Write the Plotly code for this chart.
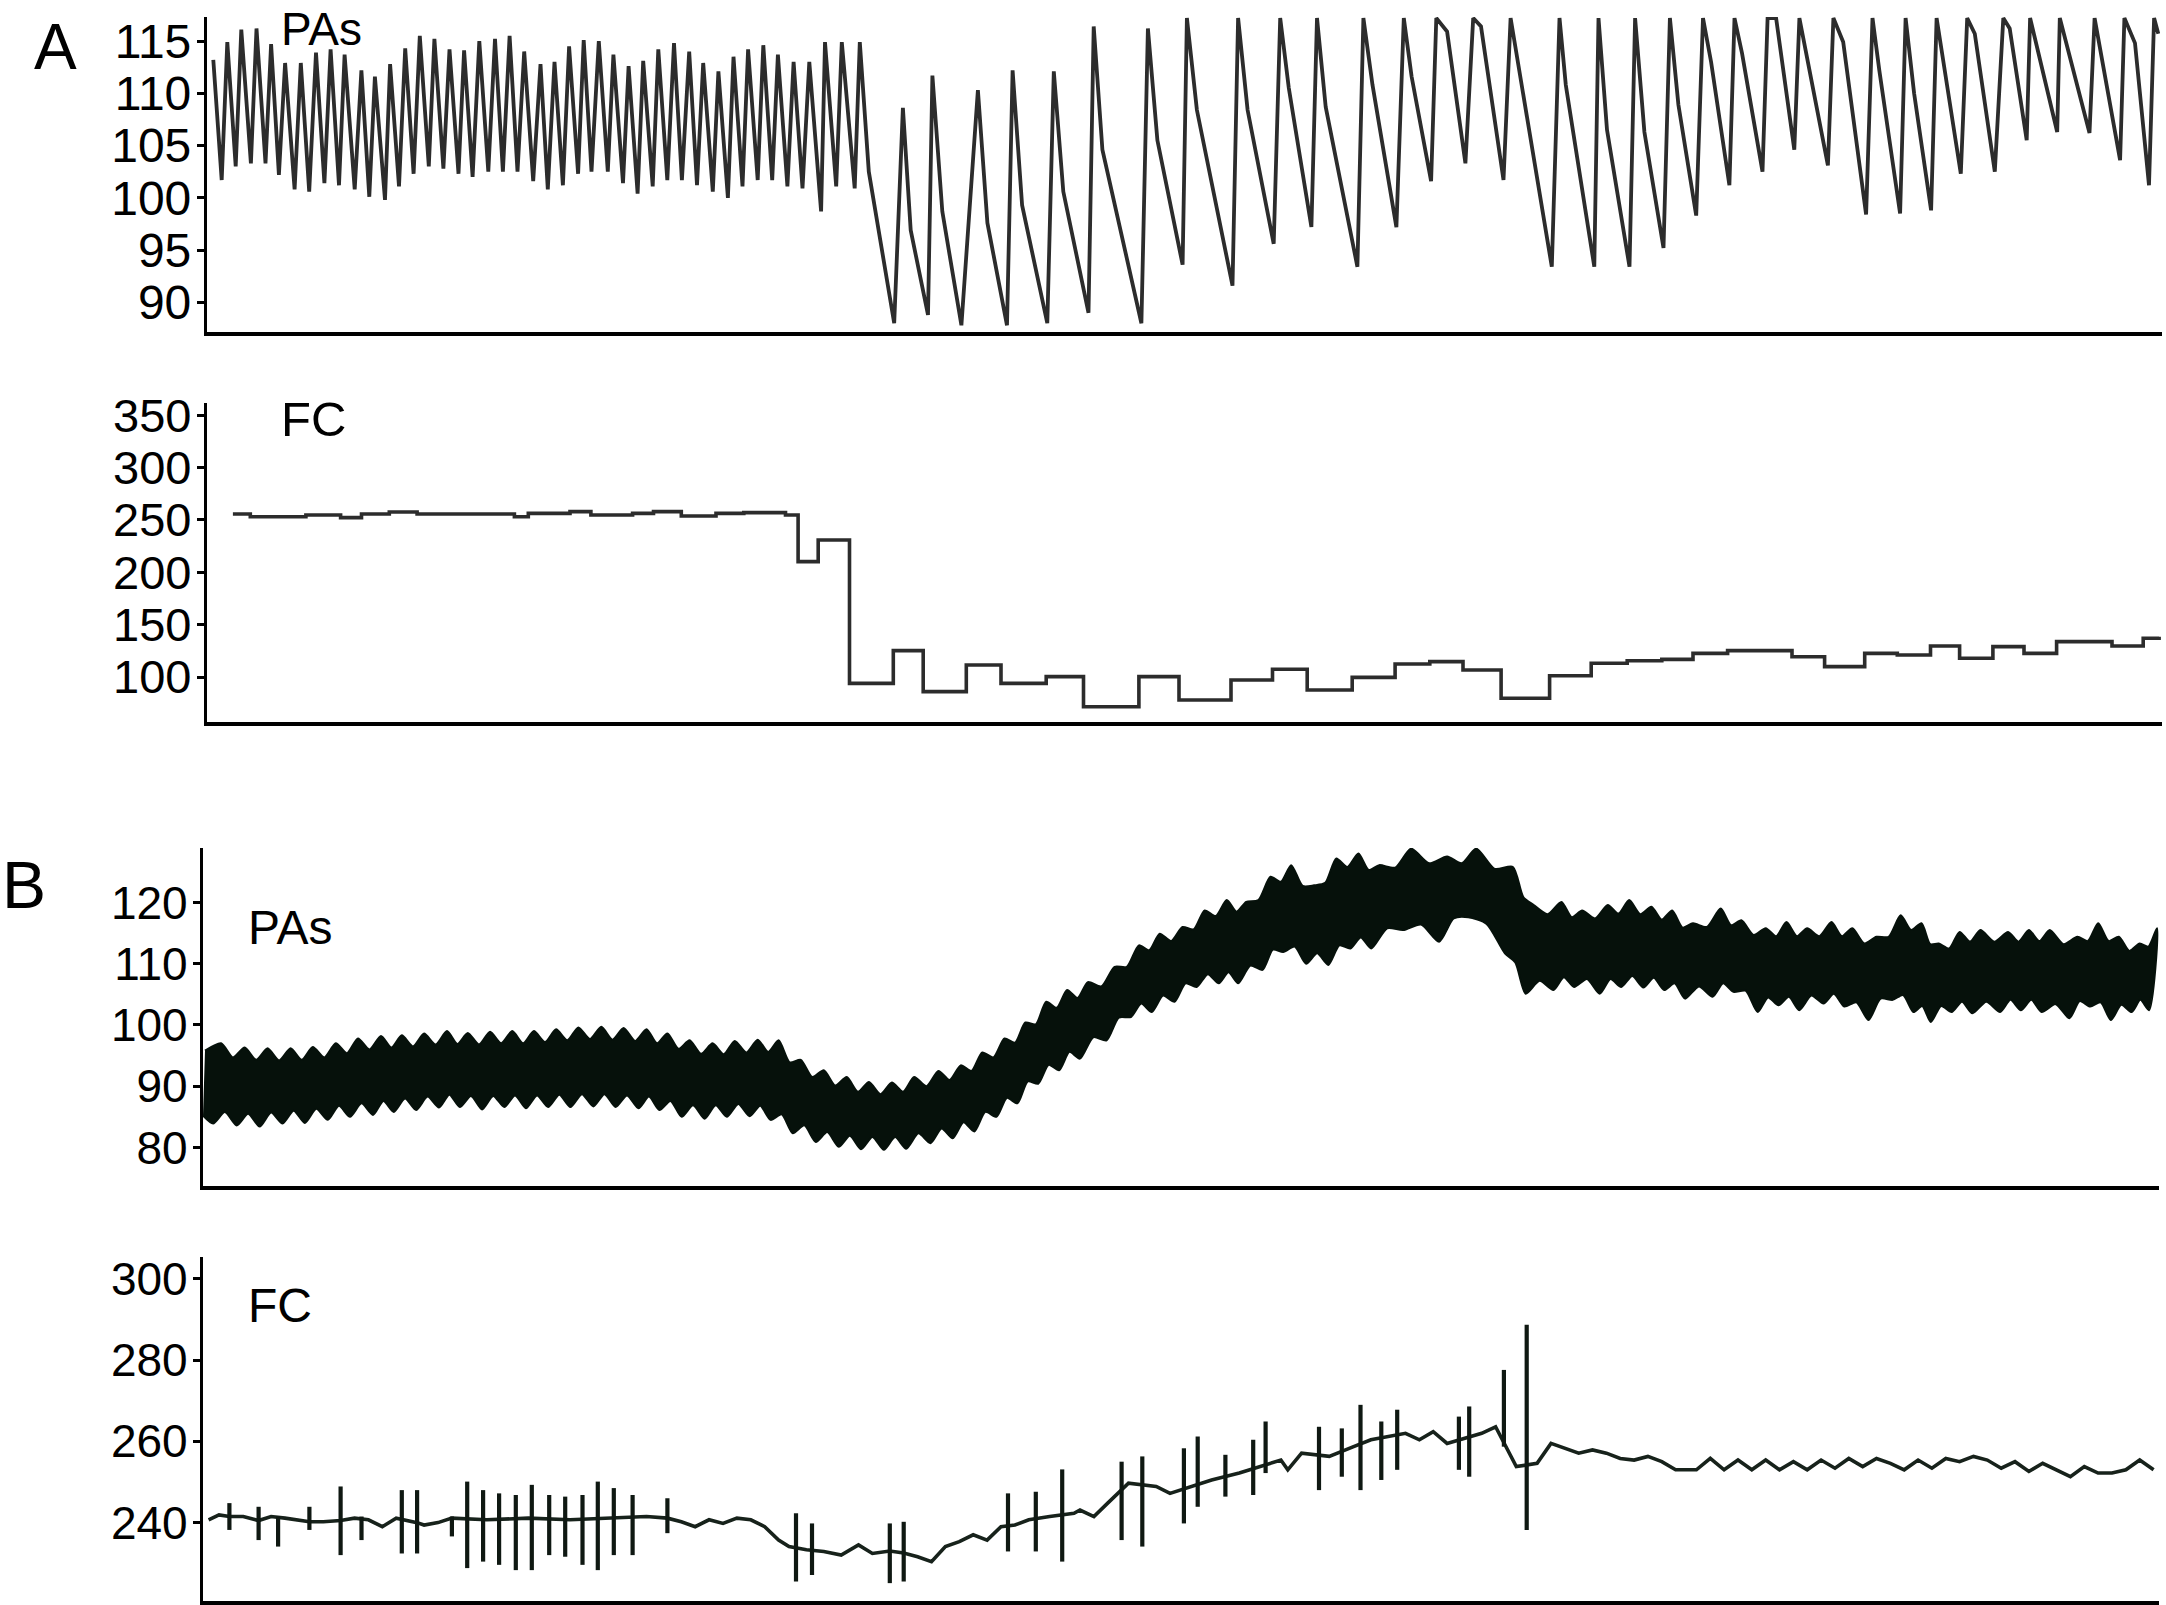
import plotly.graph_objects as go

# ---------------- panel A : PAs (mmHg), time in arbitrary units ----------------
# fast, regular beats before the drop: peaks and troughs
pas_a_pk_t = [6.3, 20.3, 34.3, 49.5, 64.1, 78.1, 93.8, 109.0, 123.6, 137.6, 154.4, 167.9, 183.1, 198.2,
              212.8, 227.4, 242.5, 257.1, 272.3, 288.0, 302.6, 317.2, 333.5, 347.5, 362.1, 376.7, 391.8,
              406.4, 421.6, 436.2, 451.3, 467.0, 482.2, 496.2, 511.4, 526.5, 541.1, 556.3, 570.9, 586.6,
              602.3, 618.0, 634.8, 652.8]
pas_a_pk_v = [113.2, 114.9, 116.1, 116.2, 114.7, 112.9, 112.9, 113.9, 114.2, 113.7, 112.2, 111.6, 112.8,
              114.3, 115.5, 115.2, 114.2, 114.1, 115.0, 115.2, 115.5, 114.0, 112.8, 113.0, 114.5, 115.1,
              115.0, 113.7, 112.6, 113.1, 114.2, 114.8, 114.0, 112.9, 112.1, 113.5, 114.2, 114.6, 113.7,
              113.0, 113.0, 114.9, 114.9, 114.9]
pas_a_tr_t = [14.7, 28.7, 43.9, 58.5, 71.9, 87.6, 102.2, 117.4, 132.0, 147.7, 162.3, 178.0, 192.0, 206.6,
              221.8, 236.4, 251.5, 265.6, 281.3, 295.9, 310.5, 326.2, 340.8, 355.9, 371.1, 384.5, 400.8,
              416.0, 430.6, 445.7, 460.3, 474.9, 490.0, 505.8, 520.9, 535.5, 550.7, 565.2, 580.4, 595.5,
              614.1, 629.2, 647.7, 661.8]
pas_a_tr_v = [101.7, 103.0, 103.3, 103.3, 102.2, 100.8, 100.6, 101.4, 101.2, 100.8, 100.1, 99.8, 101.1,
              102.3, 103.0, 102.8, 102.3, 102.0, 102.5, 102.5, 102.5, 101.6, 100.8, 101.2, 102.3, 102.5,
              102.5, 101.4, 100.4, 101.1, 101.7, 101.7, 101.2, 100.6, 100.0, 101.1, 101.7, 101.7, 101.1,
              100.9, 98.7, 101.1, 100.9, 102.5]
# slow beats after the drop: trough -> peak -> dicrotic notch -> trough ...
pas_a_slow_t = [687.2, 695.9, 703.7, 721.0, 725.4, 735.3, 754.4, 770.9, 780.4, 800.0,
                805.6, 815.1, 840.3, 846.8, 856.3, 881.5, 886.7, 895.4, 934.4, 940.9,
                950.4, 975.6, 979.9, 989.9, 1025.5, 1031.1, 1040.6, 1066.7, 1073.2, 1081.8,
                1104.4, 1110.0, 1118.7, 1150.4, 1156.4, 1165.5, 1189.4, 1196.8, 1204.6, 1224.1,
                1229.3, 1240.1, 1258.4, 1266.2, 1274.0, 1296.5, 1303.6, 1344.8, 1352.5, 1358.8,
                1387.3, 1391.5, 1400.0, 1422.5, 1428.1, 1437.4, 1456.5, 1462.9, 1471.4, 1489.2,
                1496.0, 1504.1, 1522.4, 1527.5, 1535.1, 1555.5, 1560.6, 1569.1, 1587.3, 1592.4,
                1620.9, 1626.4, 1636.2, 1659.1, 1665.5, 1672.3, 1693.1, 1698.6, 1707.1, 1724.1,
                1729.6, 1736.8, 1753.8, 1760.2, 1767.8, 1787.8, 1796.3, 1802.7, 1819.7, 1823.1,
                1850.2, 1852.8, 1882.5, 1887.6, 1913.1, 1917.4, 1928.0, 1942.0, 1947.1, 1951.3]
pas_a_slow_v = [88.0, 108.6, 96.9, 88.8, 111.7, 98.7, 87.8, 110.3, 97.6, 87.8,
                112.2, 99.3, 88.0, 112.1, 100.6, 89.0, 116.4, 104.6, 88.0, 116.2,
                105.5, 93.6, 117.2, 108.4, 91.6, 117.2, 108.4, 95.6, 117.2, 110.5,
                97.2, 117.2, 108.7, 93.4, 117.2, 110.8, 97.2, 117.2, 111.6, 101.6,
                117.2, 115.9, 103.3, 117.2, 116.4, 101.7, 117.2, 93.4, 117.2, 110.8,
                93.4, 117.2, 106.5, 93.4, 117.2, 106.3, 95.2, 117.2, 108.9, 98.3,
                117.2, 113.0, 101.2, 117.2, 113.8, 102.5, 117.2, 117.2, 104.6, 117.2,
                103.1, 117.2, 114.9, 98.4, 117.2, 112.2, 98.5, 117.2, 110.0, 98.8,
                117.2, 112.7, 102.3, 117.2, 115.7, 102.5, 117.2, 116.2, 105.5, 117.2,
                106.3, 117.2, 106.2, 117.2, 103.6, 117.2, 114.8, 101.2, 117.2, 115.7]

# ---------------- panel A : FC (bpm), step trace ----------------
fc_a_t = [25.9, 43.3, 98.9, 133.6, 154.5, 182.3, 210.1, 307.4, 321.3, 363.0, 383.9, 425.6, 446.5,
          474.3, 509.0, 536.8, 578.5, 591.1, 611.2, 642.5, 686.3, 716.2, 759.3, 794.0, 839.2, 876.5,
          931.9, 972.0, 1024.0, 1065.5, 1100.2, 1145.2, 1188.1, 1222.8, 1256.0, 1294.1, 1342.6, 1384.2,
          1420.2, 1454.8, 1486.0, 1520.6, 1585.0, 1617.6, 1657.7, 1690.3, 1723.5, 1752.6, 1785.9,
          1817.0, 1849.6, 1905.0, 1936.2, 1952.1]
fc_a_v = [255.6, 253.0, 254.6, 252.1, 255.6, 257.5, 255.6, 253.0, 256.2, 257.8, 254.6, 256.2, 257.8,
          253.7, 256.2, 256.9, 254.6, 210.1, 230.8, 94.0, 125.2, 86.1, 111.5, 94.0, 100.4, 71.7,
          100.4, 78.1, 97.2, 107.4, 87.6, 99.7, 112.5, 114.7, 106.7, 79.7, 101.3, 113.1,
          115.6, 116.9, 122.6, 125.2, 119.4, 109.9, 122.6, 121.0, 129.6, 117.9, 129.0,
          122.6, 133.8, 129.6, 137.0, 138.5]

# ---------------- panel B : PAs (mmHg), upper / lower envelope of the pulse band ----------------
# respiratory "teeth": crests (pk) and the necks (nk) between them
pas_b_pk_t = [18.1, 41.7, 64.6, 87.6, 109.8, 132.8, 155.0, 178.0, 198.8, 221.1, 244.0, 264.8, 287.1,
              309.3, 330.9, 353.1, 375.4, 398.3, 420.6, 443.5, 464.4, 486.6, 509.6, 531.8, 554.7, 575.6,
              597.8, 620.8, 643.7, 666.0, 688.9, 711.2, 735.5, 757.7, 779.3, 801.5, 822.4, 843.2, 864.1,
              884.9, 911.6, 935.9, 956.7, 979.5, 1001.7, 1023.8, 1043.2, 1067.5, 1088.2, 1111.1, 1133.3,
              1155.4, 1176.2, 1208.1, 1244.1, 1273.2, 1309.9, 1330.7, 1358.4, 1379.1, 1404.8, 1426.2,
              1448.4, 1469.2, 1490.0, 1517.7, 1538.4, 1562.7, 1583.5, 1604.2, 1628.5, 1649.3, 1673.5,
              1697.7, 1718.5, 1735.8, 1756.6, 1777.4, 1805.1, 1825.9, 1846.7, 1874.4, 1895.2, 1915.9,
              1936.7, 1954.0]
pas_b_pk_hi = [97.0, 96.3, 96.2, 96.2, 96.4, 97.0, 97.8, 98.2, 98.3, 98.6, 99.0, 98.7, 98.9, 99.0,
               99.0, 99.3, 99.6, 99.7, 99.5, 99.3, 98.6, 97.5, 97.0, 97.4, 97.6, 97.5, 94.3, 92.6, 91.5,
               90.7, 90.6, 91.5, 92.5, 93.4, 95.5, 97.8, 100.4, 103.8, 105.7, 107.0,
               109.5, 113.0, 114.9, 116.0, 118.7, 120.4, 120.1, 124.2, 126.1, 122.8, 127.2, 128.0,
               126.1, 128.8, 127.5, 128.8, 125.8, 119.6, 120.1, 118.7, 119.6, 120.4, 119.3, 118.7,
               116.6, 119.0, 117.1, 115.8, 116.8, 115.8, 116.8, 115.8, 114.4, 117.9, 116.6, 113.3,
               115.2, 115.5, 115.2, 115.5, 115.5, 114.4, 116.6, 114.4, 113.3, 115.8]
pas_b_pk_lo = [83.9, 83.6, 83.4, 83.9, 84.0, 84.5, 85.0, 85.3, 85.8, 86.1, 86.5, 86.6, 86.2, 86.6,
               86.4, 86.6, 86.6, 86.7, 86.6, 86.4, 86.1, 85.0, 84.7, 85.0, 85.1, 84.5, 82.3, 80.9, 80.1,
               79.7, 79.6, 79.8, 80.7, 81.5, 82.6, 85.0, 87.2, 90.4, 92.6, 94.5,
               97.5, 101.3, 102.1, 103.8, 106.2, 106.8, 106.8, 109.0, 111.9, 110.0, 109.8, 112.5,
               112.5, 115.5, 113.6, 117.6, 111.7, 105.1, 105.7, 106.2, 105.1, 106.2, 106.1, 105.7,
               104.3, 104.6, 105.4, 102.1, 103.2, 102.4, 103.5, 103.0, 100.8, 104.1, 102.1, 100.5,
               102.1, 101.9, 102.1, 102.4, 102.1, 101.1, 103.0, 100.8, 102.1, 102.4]
pas_b_nk_t = [2.0, 29.9, 53.2, 76.1, 98.7, 121.3, 143.9, 166.5, 188.4, 210.0, 232.6, 254.4, 276.0, 298.2,
              320.1, 342.0, 364.3, 386.9, 409.5, 432.1, 454.0, 475.5, 498.1, 520.7, 543.3, 565.2,
              586.7, 609.3, 632.3, 654.9, 677.5, 700.1, 723.4, 746.6, 768.5, 790.4, 812.0, 832.8,
              853.7, 874.5, 898.3, 923.8, 946.3, 968.1, 990.6, 1012.8, 1033.5, 1055.4, 1077.9, 1099.7,
              1122.2, 1144.4, 1165.8, 1192.2, 1226.1, 1258.7, 1291.6, 1320.3, 1344.6, 1368.8, 1392.0,
              1415.5, 1437.3, 1458.8, 1479.6, 1503.9, 1528.1, 1550.6, 1573.1, 1593.9, 1616.4, 1638.9,
              1661.4, 1685.6, 1708.1, 1727.2, 1746.2, 1767.0, 1791.3, 1815.5, 1836.3, 1860.6, 1884.8,
              1905.6, 1926.3, 1945.4]
pas_b_nk_hi = [95.8, 94.7, 94.3, 94.2, 94.3, 94.7, 95.4, 96.0, 96.3, 96.5, 96.8, 96.9, 96.8, 97.0, 97.0,
               97.2, 97.5, 97.7, 97.6, 97.4, 97.0, 96.1, 95.3, 95.2, 95.5, 95.6, 93.9, 91.5, 90.1, 89.1,
               88.7, 89.1, 90.0, 91.0, 92.5, 94.7, 97.1, 100.1, 102.8, 104.4, 106.3,
               109.5, 112.2, 113.7, 115.6, 117.8, 118.5, 120.4, 123.4, 122.7, 123.2, 125.8, 125.3,
               125.7, 126.4, 126.4, 125.5, 120.9, 118.1, 117.6, 117.4, 118.2, 118.1, 117.2, 115.9,
               116.0, 116.3, 114.7, 114.5, 114.5, 114.5, 114.5, 113.3, 114.4, 115.5, 113.2, 112.5,
               113.6, 113.6, 113.6, 113.7, 113.2, 113.7, 113.7, 112.1, 112.8]
pas_b_nk_lo = [85.2, 85.8, 85.5, 85.7, 86.0, 86.3, 86.8, 87.2, 87.6, 88.0, 88.3, 88.6, 88.4, 88.4, 88.5,
               88.5, 88.6, 88.7, 88.7, 88.5, 88.3, 87.6, 86.9, 86.9, 87.1, 86.8, 85.4, 83.6, 82.5, 81.9,
               81.7, 81.7, 82.3, 83.1, 84.1, 85.8, 88.1, 90.8, 93.5, 95.6, 98.0,
               101.2, 103.5, 104.8, 106.8, 108.3, 108.6, 109.7, 112.3, 112.8, 111.7, 113.0, 114.3,
               115.8, 116.4, 117.4, 116.5, 110.2, 107.2, 107.8, 107.5, 107.5, 108.0, 107.7, 106.8,
               106.3, 106.8, 105.6, 104.5, 104.6, 104.8, 105.1, 103.7, 104.3, 104.9, 103.1, 103.1,
               103.8, 103.8, 104.1, 104.1, 103.4, 103.9, 103.7, 103.3, 104.1]
# the teeth of the lower edge come slightly ahead of those of the upper edge
LOWER_EDGE_LEAD = 8.0

# ---------------- panel B : FC (bpm), baseline + beat-detection spikes ----------------
fc_b_t = [5.6, 16.0, 26.4, 40.3, 55.6, 68.1, 82.0, 95.9, 106.4, 120.3, 137.6, 151.5, 165.4, 179.3,
          193.2, 214.1, 221.1, 235.0, 248.9, 283.6, 325.3, 367.0, 408.7, 443.5, 464.4, 478.3, 492.2,
          506.1, 520.0, 533.9, 547.8, 561.7, 575.6, 586.0, 603.4, 620.8, 638.2, 655.5, 669.4, 686.8,
          700.7, 714.6, 728.5, 742.4, 756.3, 770.2, 784.1, 798.0, 811.9, 825.8, 846.7, 871.0,
          877.0, 890.9, 904.7, 925.5, 953.2, 967.0, 1008.6, 1036.3, 1077.9, 1084.8, 1098.6, 1126.3,
          1150.6, 1167.9, 1202.5, 1216.4, 1230.2, 1244.1, 1278.7, 1292.6, 1313.3, 1334.1, 1348.0,
          1361.8, 1375.7, 1389.5, 1403.4, 1417.2, 1431.1, 1444.9, 1458.8, 1472.6, 1493.4, 1507.3,
          1521.1, 1535.0, 1548.8, 1562.7, 1576.5, 1590.4, 1604.2, 1618.1, 1632.0, 1645.8, 1659.7,
          1673.5, 1687.4, 1701.2, 1715.1, 1728.9, 1742.8, 1756.6, 1770.5, 1784.3, 1798.2, 1812.0,
          1825.9, 1839.7, 1853.6, 1867.4, 1881.3, 1895.1, 1909.0, 1922.9, 1936.7, 1950.6]
fc_b_v = [240.7, 241.9, 241.5, 241.5, 240.5, 241.5, 241.1, 240.7, 240.2, 240.2, 240.5, 241.1, 240.7,
          239.0, 241.1, 240.0, 239.4, 240.0, 241.1, 240.7, 241.1, 240.7, 241.1, 241.5, 241.1, 240.2,
          239.0, 240.7, 239.8, 241.1, 240.7, 239.0, 235.7, 234.1, 233.3, 232.9, 232.0, 234.5, 232.4,
          233.0, 232.5, 231.6, 230.4, 234.1, 235.3, 237.0, 235.7, 239.0, 239.4, 240.7, 241.5, 242.3,
          243.1, 241.5, 244.8, 249.7, 248.9, 247.2, 250.5, 252.2, 255.4, 253.0, 257.1, 256.3,
          258.7, 260.4, 262.0, 260.4, 262.4, 259.5, 262.0, 263.6, 253.8, 254.6, 259.5,
          258.3, 257.1, 257.9, 257.1, 255.8, 255.4, 256.3, 255.0, 253.0, 253.0, 255.8,
          253.0, 255.4, 253.0, 255.4, 253.0, 255.0, 253.0, 255.4, 253.4, 255.8, 253.8,
          255.8, 254.6, 253.0, 255.4, 253.4, 255.8, 255.0, 256.3, 255.4, 253.4, 255.0,
          252.6, 254.6, 253.0, 251.3, 253.8, 252.2, 252.2, 253.0, 255.4, 253.0]
fc_b_spk_t = [26.4, 55.6, 75.1, 106.4, 137.6, 158.5, 198.8, 214.1, 248.9, 264.2, 280.1, 296.1, 312.8,
              328.8, 346.2, 362.2, 379.5, 394.8, 410.8, 429.6, 464.4, 593.0, 609.0, 686.8, 700.7,
              805.0, 832.8, 859.2, 918.6, 939.3, 980.9, 994.7, 1022.4, 1050.2, 1062.6, 1116.0,
              1138.8, 1157.5, 1178.3, 1194.2, 1255.9, 1266.2, 1300.9, 1323.7]
fc_b_spk_hi = [244.8, 243.9, 241.5, 243.9, 248.9, 241.5, 248.0, 248.0, 241.5, 250.1, 248.0, 247.2, 246.8,
               249.3, 246.8, 246.4, 246.8, 250.1, 248.5, 246.8, 246.0, 242.3, 239.8, 239.8, 240.2,
               247.2, 247.6, 253.1, 255.0, 256.3, 258.3, 261.2, 256.7, 260.4, 264.9, 263.6,
               263.2, 269.0, 264.9, 267.8, 266.1, 268.6, 277.6, 288.7]
fc_b_spk_lo = [238.2, 235.7, 234.1, 238.2, 232.0, 235.7, 232.4, 232.4, 236.6, 228.8, 230.4, 229.6, 228.3,
               228.3, 232.0, 231.6, 229.6, 228.3, 232.0, 232.0, 237.4, 225.5, 227.1, 225.1, 225.5,
               232.9, 232.9, 230.4, 235.7, 234.1, 239.8, 243.9, 246.4, 246.8, 252.2, 248.0,
               251.3, 248.0, 250.5, 253.0, 253.0, 251.3, 258.7, 238.2]

W, H = 2166, 1605
FONT = "Liberation Sans, Arial, Helvetica, sans-serif"
TRACE = "#2c2c2c"
BAND = "#06110b"

fig = go.Figure()

# A - PAs
fast = sorted(zip(pas_a_pk_t + pas_a_tr_t, pas_a_pk_v + pas_a_tr_v))
a_t = [p[0] for p in fast] + pas_a_slow_t
a_v = [p[1] for p in fast] + pas_a_slow_v
fig.add_trace(go.Scatter(x=a_t, y=a_v, mode="lines", line=dict(color=TRACE, width=3.8),
                         xaxis="x", yaxis="y"))

# A - FC
fig.add_trace(go.Scatter(x=fc_a_t, y=fc_a_v, mode="lines", line=dict(color=TRACE, width=3.6, shape="hv"),
                         xaxis="x2", yaxis="y2"))

# B - PAs band, drawn as one closed outline (upper edge forward, lower edge back)
upper = sorted(zip(pas_b_pk_t + pas_b_nk_t, pas_b_pk_hi + pas_b_nk_hi))
lower = sorted(zip(pas_b_pk_t + pas_b_nk_t, pas_b_pk_lo + pas_b_nk_lo), reverse=True)
band_x = [p[0] for p in upper] + [max(0.0, p[0] - LOWER_EDGE_LEAD) for p in lower]
band_y = [p[1] for p in upper] + [p[1] for p in lower]
fig.add_trace(go.Scatter(x=band_x, y=band_y, mode="lines", fill="toself", fillcolor=BAND,
                         line=dict(color=BAND, width=2, shape="spline", smoothing=0.7),
                         xaxis="x3", yaxis="y3"))

# B - FC
fig.add_trace(go.Scatter(x=fc_b_t, y=fc_b_v, mode="lines", line=dict(color="#17221b", width=3.6),
                         xaxis="x4", yaxis="y4"))
sx, sy = [], []
for t, hi, lo in zip(fc_b_spk_t, fc_b_spk_hi, fc_b_spk_lo):
    sx += [t, t, None]
    sy += [hi, lo, None]
fig.add_trace(go.Scatter(x=sx, y=sy, mode="lines", line=dict(color="#0f1812", width=4.2),
                         xaxis="x4", yaxis="y4"))


def xax(domain, rng, anchor):
    return dict(domain=domain, range=rng, anchor=anchor, showline=True, linecolor="black",
                linewidth=3.5, showticklabels=False, ticks="", showgrid=False, zeroline=False)


def yax(domain, rng, anchor, vals, size, standoff):
    return dict(domain=domain, range=rng, anchor=anchor, showline=True, linecolor="black",
                linewidth=3.2, ticks="outside", ticklen=7, tickwidth=2.5, tickcolor="black",
                tickvals=vals, ticklabelstandoff=standoff,
                tickfont=dict(family=FONT, size=size, color="black"),
                showgrid=False, zeroline=False)


xa = [207 / W, 2162 / W]
xb = [203 / W, 2159 / W]

fig.update_layout(
    width=W, height=H, margin=dict(l=0, r=0, t=0, b=0, autoexpand=False),
    paper_bgcolor="white", plot_bgcolor="white", showlegend=False,
    xaxis=xax(xa, [0, 1955], "y"),
    yaxis=yax([1 - 332 / H, 1 - 17 / H], [87.16, 117.3], "x", [90, 95, 100, 105, 110, 115], 48, -4),
    xaxis2=xax(xa, [0, 1955], "y2"),
    yaxis2=yax([1 - 722 / H, 1 - 403 / H], [57.1, 361.5], "x2", [100, 150, 200, 250, 300, 350], 47, -4),
    xaxis3=xax(xb, [0, 1956], "y3"),
    yaxis3=yax([1 - 1186 / H, 1 - 848 / H], [73.7, 128.9], "x3", [80, 90, 100, 110, 120], 46, -4),
    xaxis4=xax(xb, [0, 1956], "y4"),
    yaxis4=yax([1 - 1601 / H, 1 - 1257 / H], [220.7, 305.4], "x4", [240, 260, 280, 300], 46, -4),
)


def label(text, x, y, size, anchor="left"):
    fig.add_annotation(text=text, x=x / W, y=1 - y / H, xref="paper", yref="paper",
                       xanchor=anchor, yanchor="middle", showarrow=False,
                       font=dict(family=FONT, size=size, color="black"))


label("A", 55, 47, 64, "center")
label("B", 24, 885, 66, "center")
label("PAs", 279, 29, 46)
label("FC", 279, 419, 49)
label("PAs", 246, 927, 48)
label("FC", 246, 1305, 48)

# the page body must not add its default 8px margin around the fixed-size figure
fig.write_html("out.html", config={"displayModeBar": False},
               post_script="document.body.style.margin='0px';")
